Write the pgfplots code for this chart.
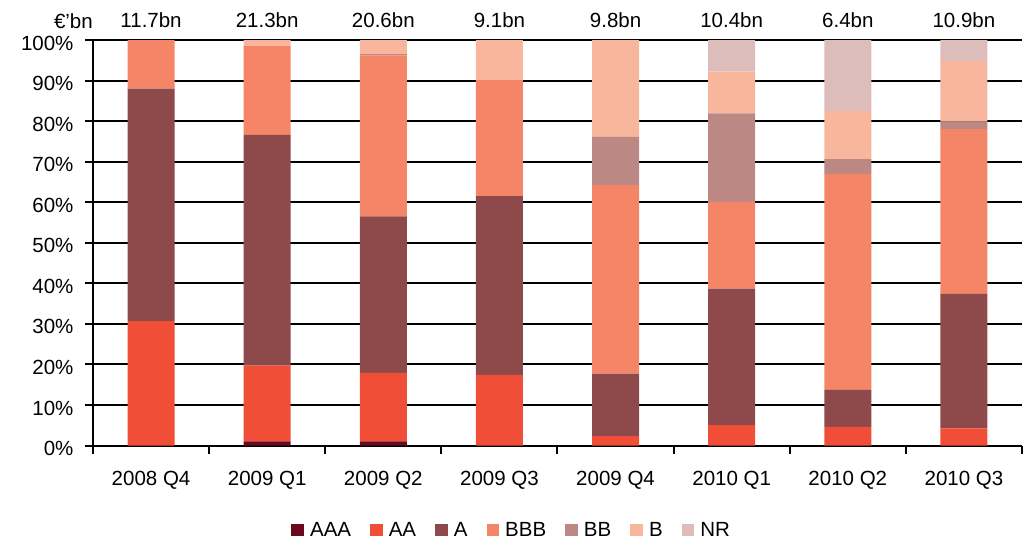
\documentclass[border=0pt]{standalone}
\usepackage{pgfplots}
\usepackage{pgfplotstable}
\usepackage{fontspec}
\setmainfont{Liberation Sans}
\pgfplotsset{compat=1.18}

\definecolor{cAAA}{HTML}{6B0A1E}
\definecolor{cAA}{HTML}{F04E37}
\definecolor{cA}{HTML}{8E4A4B}
\definecolor{cBBB}{HTML}{F48567}
\definecolor{cBB}{HTML}{BC8883}
\definecolor{cB}{HTML}{F8B69C}
\definecolor{cNR}{HTML}{DDBDB9}

% Share of issuance by rating, per quarter (%)
\pgfplotstableread{
x AAA  AA    A     BBB   BB    B     NR
0 0.0  30.7  57.3  12.0  0.0   0.0   0.0
1 1.0  18.7  56.9  21.9  0.0   1.5   0.0
2 1.0  16.9  38.6  39.7  0.3   3.5   0.0
3 0.0  17.4  44.1  28.7  0.0   9.8   0.0
4 0.0  2.3   15.4  46.6  11.8  23.9  0.0
5 0.0  5.0   33.7  21.4  21.8  10.3  7.8
6 0.0  4.6   9.1   53.3  3.6   11.9  17.5
7 0.0  4.2   33.2  40.6  1.9   14.9  5.2
}\ratings

\newcommand{\lblfont}{\fontsize{20.5}{24}\selectfont}

\begin{document}
\begin{tikzpicture}
\begin{axis}[
  at={(0,0)}, anchor=south west,
  width=929pt, height=405.5pt, scale only axis,
  clip=false,
  ybar stacked, bar width=0.405,
  xmin=-0.5, xmax=7.5, ymin=0, ymax=100,
  axis x line*=bottom, axis y line*=left,
  axis line style={black, line width=2pt},
  tick align=outside,
  major tick length=8pt,
  tick style={black, line width=2pt},
  ytick={0,10,...,100},
  yticklabels={0\%,10\%,20\%,30\%,40\%,50\%,60\%,70\%,80\%,90\%,100\%},
  yticklabel style={xshift=-8pt, yshift=-3pt},
  xtick={-0.5,0.5,...,7.5},
  xticklabels={},
  extra x ticks={0,1,...,7},
  extra x tick labels={2008 Q4,2009 Q1,2009 Q2,2009 Q3,2009 Q4,2010 Q1,2010 Q2,2010 Q3},
  extra x tick style={major tick length=0pt, xmajorgrids=false,
    xticklabel style={yshift=-22pt}},
  ymajorgrids,
  major grid style={black, line width=2pt},
  tick label style={font=\lblfont, text=black},
  legend image code/.code={\fill[#1] (0pt,-6.3pt) rectangle (12.7pt,6.3pt);},
  legend style={at={(0.4507,-0.2084)}, anchor=center, draw=none, fill=none,
    font=\lblfont, legend columns=-1,
    /tikz/every odd column/.append style={column sep=4pt},
    /tikz/every even column/.append style={column sep=17pt}},
]
\addplot[fill=cAAA, draw=none] table[x=x, y=AAA] {\ratings};
\addplot[fill=cAA,  draw=none] table[x=x, y=AA]  {\ratings};
\addplot[fill=cA,   draw=none] table[x=x, y=A]   {\ratings};
\addplot[fill=cBBB, draw=none] table[x=x, y=BBB] {\ratings};
\addplot[fill=cBB,  draw=none] table[x=x, y=BB]  {\ratings};
\addplot[fill=cB,   draw=none] table[x=x, y=B]   {\ratings};
\addplot[fill=cNR,  draw=none] table[x=x, y=NR]  {\ratings};
\legend{AAA,AA,A,BBB,BB,B,NR}

% deal size above each quarter
\foreach \i/\v in {0/11.7,1/21.3,2/20.6,3/9.1,4/9.8,5/10.4,6/6.4,7/10.9}{
  \edef\tmp{\noexpand\node[anchor=base, font=\noexpand\lblfont, yshift=12.8pt] at (axis cs:\i,100) {\v bn};}
  \tmp
}
\node[anchor=base east, font=\lblfont, yshift=11.5pt, inner xsep=0pt] at (rel axis cs:0,1) {€’bn};
\end{axis}
\pgfresetboundingbox
\path[use as bounding box] (-93pt,-93.5pt) rectangle (941pt,445.5pt);
\end{tikzpicture}
\end{document}
